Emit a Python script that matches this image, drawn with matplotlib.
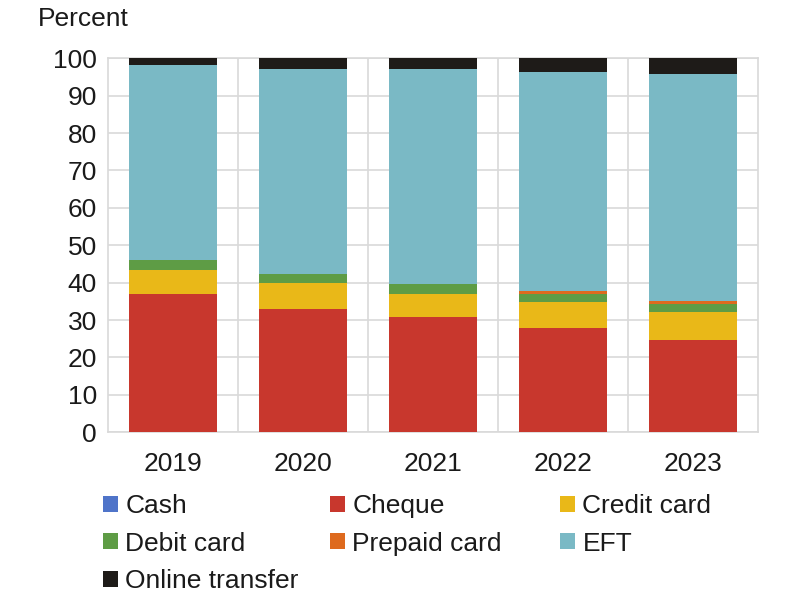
import matplotlib
matplotlib.use("Agg")
import matplotlib.pyplot as plt
from matplotlib.patches import Patch
import numpy as np

plt.rcParams['font.family'] = ['Liberation Sans', 'DejaVu Sans']

years = ["2019", "2020", "2021", "2022", "2023"]

cash = [0.0, 0.0, 0.0, 0.0, 0.0]
cheque = [37.0, 33.0, 30.9, 28.0, 24.7]
credit_card = [6.3, 6.9, 6.1, 6.9, 7.4]
debit_card = [2.7, 2.5, 2.7, 2.2, 2.2]
prepaid_card = [0.0, 0.0, 0.0, 0.6, 0.7]
eft = [52.3, 54.6, 57.3, 58.6, 60.7]
online_transfer = [1.7, 3.0, 3.0, 3.7, 4.3]

series = [
    ("Cash", cash, "#4f74c9"),
    ("Cheque", cheque, "#c8372d"),
    ("Credit card", credit_card, "#e9b818"),
    ("Debit card", debit_card, "#5e9c45"),
    ("Prepaid card", prepaid_card, "#de6a1e"),
    ("EFT", eft, "#7ab9c5"),
    ("Online transfer", online_transfer, "#1e1b18"),
]

fig = plt.figure(figsize=(8, 6), dpi=100)
ax = fig.add_axes([0.135, 0.2795, 0.8125, 0.6235])

x = np.arange(len(years))
bottom = np.zeros(len(years))
for name, vals, col in series:
    ax.bar(x, vals, 0.67, bottom=bottom, color=col, label=name, zorder=3)
    bottom += np.array(vals)

ax.set_xlim(-0.5, len(years) - 0.5)
ax.set_ylim(0, 100)
ax.set_yticks(range(0, 101, 10))
ax.set_xticks(x)
ax.set_xticklabels(years)
ax.set_xticks(x[:-1] + 0.5, minor=True)

grid_col = "#d9d9d9"
ax.grid(axis="y", which="major", color=grid_col, lw=1.2, zorder=0)
ax.grid(axis="x", which="minor", color=grid_col, lw=1.2, zorder=0)
for s in ax.spines.values():
    s.set_color(grid_col)
    s.set_linewidth(1.2)

ax.tick_params(axis="both", which="both", length=0, labelsize=19, colors="#1a1a1a")
ax.tick_params(axis="y", pad=8)
ax.tick_params(axis="x", pad=14)

fig.text(38 / 800, 1 - 19 / 600, "Percent", fontsize=19, va="center", ha="left",
         color="#1a1a1a")

# legend laid out in three fixed-width columns, row by row
col_x = [103 / 800, 330 / 800, 560 / 800]
for c in range(3):
    items = series[c::3]
    handles = [Patch(facecolor=col, edgecolor="none") for _, _, col in items]
    labels = [name for name, _, _ in items]
    fig.legend(handles, labels, loc="upper left",
               bbox_to_anchor=(col_x[c], 1 - 494 / 600),
               frameon=False, fontsize=19, borderpad=0, borderaxespad=0,
               handlelength=0.55, handleheight=0.55, handletextpad=0.3,
               labelspacing=0.52, labelcolor="#1a1a1a")

fig.savefig("out.png", dpi=100)
